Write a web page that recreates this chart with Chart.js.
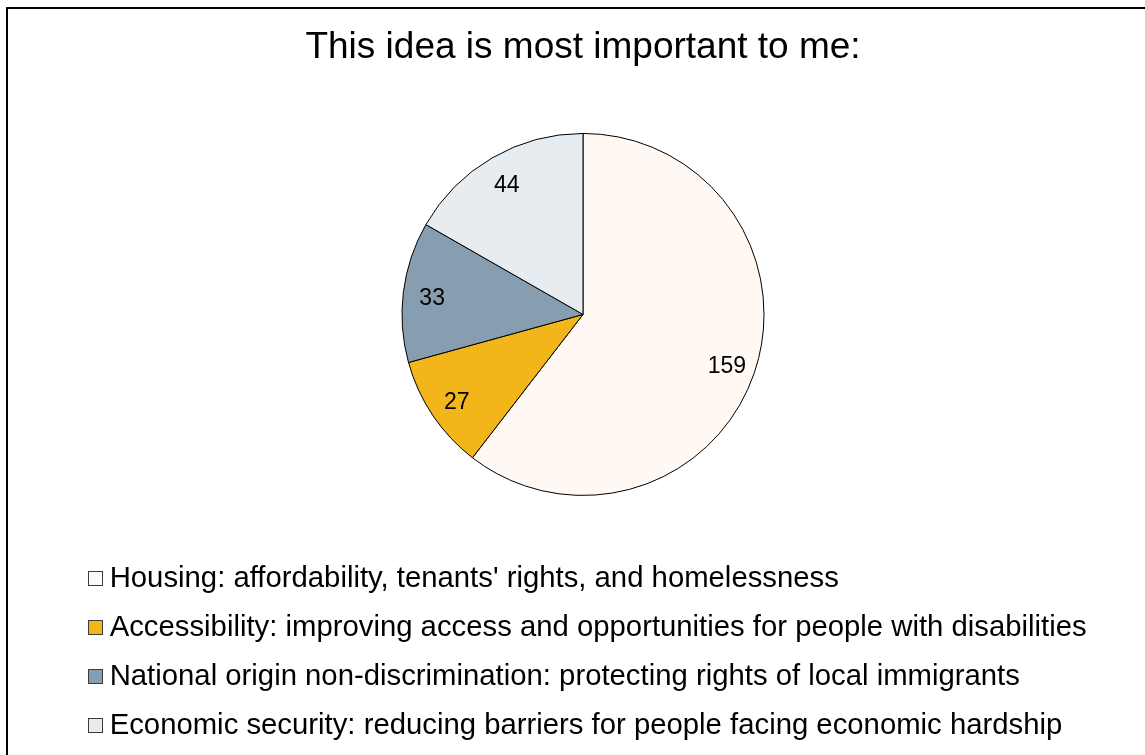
<!DOCTYPE html>
<html lang="en">
<head>
<meta charset="UTF-8">
<title>This idea is most important to me</title>
<script src="https://cdn.jsdelivr.net/npm/chart.js@4.4.1/dist/chart.umd.min.js"></script>
<style>
  body { margin: 0; background: #fff; }
  .chart-box { width: 1145px; height: 755px; position: relative; }
</style>
</head>
<body>
<div class="chart-box"><canvas id="idea-pie"></canvas></div>
<script>
const ideaLabels = [
  "Housing: affordability, tenants' rights, and homelessness",
  "Accessibility: improving access and opportunities for people with disabilities",
  "National origin non-discrimination: protecting rights of local immigrants",
  "Economic security: reducing barriers for people facing economic hardship"
];
const ideaCounts = [159, 27, 33, 44];
const sliceColors = ["#fff8f3", "#f2b51a", "#879eb0", "#e6ecf0"];

Chart.defaults.font.family = '"Liberation Sans", Arial, sans-serif';
Chart.defaults.color = '#000';

// legend key: small square sitting at the right end of a wider sprite,
// so it ends up close to its label text
function keySquare(color) {
  const c = document.createElement('canvas');
  c.width = 31;
  c.height = 15;
  const g = c.getContext('2d');
  g.fillStyle = color;
  g.fillRect(16, 0, 15, 15);
  g.strokeStyle = '#3c3c3c';
  g.lineWidth = 1;
  g.strokeRect(16.5, 0.5, 14, 14);
  return c;
}
const keyBoxes = sliceColors.map(keySquare);

// writes each count inside its slice
const sliceLabels = {
  id: 'sliceLabels',
  afterDatasetsDraw(chart) {
    const ctx = chart.ctx;
    const meta = chart.getDatasetMeta(0);
    ctx.save();
    ctx.font = '23px "Liberation Sans", Arial, sans-serif';
    ctx.fillStyle = '#000';
    ctx.textAlign = 'center';
    ctx.textBaseline = 'middle';
    meta.data.forEach((arc, i) => {
      const p = arc.getProps(['x', 'y', 'startAngle', 'endAngle', 'outerRadius']);
      const mid = (p.startAngle + p.endAngle) / 2;
      const r = p.outerRadius * 0.84;
      ctx.fillText(ideaCounts[i], p.x + Math.cos(mid) * r, p.y + Math.sin(mid) * r + 3);
    });
    ctx.restore();
  }
};

// frame line along the left and top edge
const frame = {
  id: 'frame',
  beforeDraw(chart) {
    const ctx = chart.ctx;
    ctx.save();
    ctx.strokeStyle = '#000';
    ctx.lineWidth = 2;
    ctx.beginPath();
    ctx.moveTo(7, chart.height);
    ctx.lineTo(7, 8);
    ctx.lineTo(chart.width, 8);
    ctx.stroke();
    ctx.restore();
  }
};

new Chart("idea-pie", {
  type: "pie",
  data: {
    labels: ideaLabels,
    datasets: [{
      data: ideaCounts,
      backgroundColor: sliceColors,
      borderColor: "#000",
      borderWidth: 1
    }]
  },
  options: {
    responsive: true,
    maintainAspectRatio: false,
    animation: false,
    radius: 181,
    layout: {
      padding: { top: 16, left: 60.3, right: 39.3, bottom: 4.85 }
    },
    plugins: {
      title: {
        display: true,
        text: "This idea is most important to me:",
        color: "#000",
        font: { size: 37, weight: "normal" },
        padding: { top: 9.8, bottom: 14.55 }
      },
      legend: {
        position: "bottom",
        align: "start",
        labels: {
          color: "#000",
          font: { size: 29.3 },
          boxWidth: 15,
          boxHeight: 15,
          padding: 19.7,
          usePointStyle: true,
          generateLabels(chart) {
            return chart.data.labels.map((text, i) => ({
              text: text,
              index: i,
              fillStyle: sliceColors[i],
              strokeStyle: "#000",
              lineWidth: 1,
              fontColor: "#000",
              hidden: false,
              pointStyle: keyBoxes[i]
            }));
          }
        }
      },
      tooltip: { enabled: false }
    }
  },
  plugins: [frame, sliceLabels]
});
</script>
</body>
</html>
